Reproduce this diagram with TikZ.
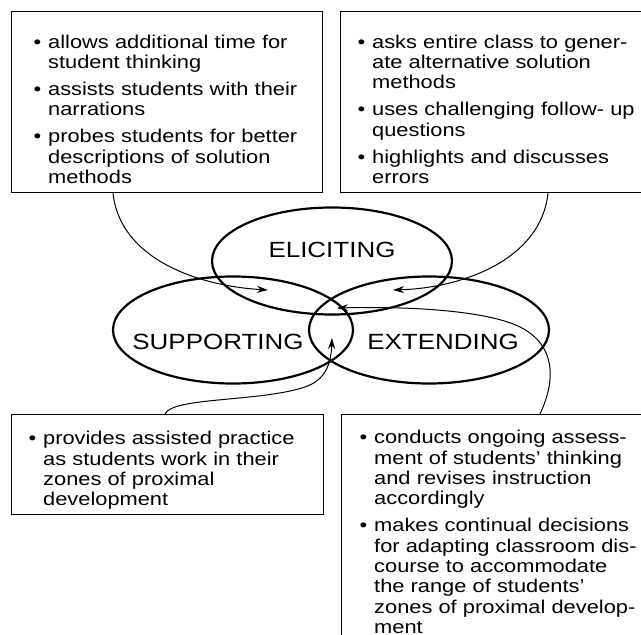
\documentclass[tikz,border=0pt]{standalone}
\usepackage{fontspec}
\setmainfont{Liberation Sans}[FakeStretch=1.18]
\usetikzlibrary{shapes.geometric,arrows.meta}

% one bullet point, lines broken by hand
\newcommand\bitem[1]{\par\noindent\strut\llap{\textbullet\hspace{7pt}}#1\par\vspace{6.5pt}}

\begin{document}
\begin{tikzpicture}[x=1pt,y=-1pt,
  box/.style={draw,line width=1pt,inner sep=0,anchor=north west},
  ring/.style={draw,ellipse,line width=2.2pt,inner sep=0,minimum width=240,minimum height=107},
  tag/.style={inner sep=0,font=\fontsize{22}{24}\selectfont},
  txt/.style={inner sep=0,anchor=north west,text width=300pt,align=left,font=\fontsize{18.5}{20.4}\selectfont},
  link/.style={line width=1pt,-{Stealth[length=11pt,width=7pt]}}]

\useasboundingbox (0,0) rectangle (641,635);
\clip (0,0) rectangle (641,635);

% boxes
\node[box,minimum width=311,minimum height=181] (tlbox) at (11,11) {};
\node[box,minimum width=330,minimum height=181] (trbox) at (340,11) {};
\node[box,minimum width=312,minimum height=100] (blbox) at (11,414) {};
\node[box,minimum width=330,minimum height=240] (brbox) at (341,414) {};

\node[txt] (tltext) at (48,27.5) {%
  \bitem{allows additional time for\\student thinking}
  \bitem{assists students with their\\narrations}
  \bitem{probes students for better\\descriptions of solution\\methods}};
\node[txt] (trtext) at (372,27.5) {%
  \bitem{asks entire class to gener-\\ate alternative solution\\methods}
  \bitem{uses challenging follow- up\\questions}
  \bitem{highlights and discusses\\errors}};
\node[txt] (bltext) at (43,424) {%
  \bitem{provides assisted practice\\as students work in their\\zones of proximal\\development}};
\node[txt] (brtext) at (374,423) {%
  \bitem{conducts ongoing assess-\\ment of students' thinking\\and revises instruction\\accordingly}
  \bitem{makes continual decisions\\for adapting classroom dis-\\course to accommodate\\the range of students'\\zones of proximal develop-\\ment}};

% the three rings
\node[ring] (elic) at (332,261) {};
\node[ring] (supp) at (233,330) {};
\node[ring] (extd) at (429,330) {};
\node[tag] (eliclabel) at (332,250) {ELICITING};
\node[tag] (supplabel) at (218,342) {SUPPORTING};
\node[tag] (extdlabel) at (443,342) {EXTENDING};

% arrows into the rings
\coordinate (tipA) at (268,290);
\coordinate (tipB) at (393,290);
\coordinate (tipC) at (332,338);
\coordinate (tipD) at (337,308);

\draw[link] ([xshift=102pt]tlbox.south west) .. controls (120,260) and (200,286) .. (tipA);
\draw[link] ([xshift=208pt]trbox.south west) .. controls (541,260) and (462,288) .. (tipB);
\draw[link] ([xshift=154pt]blbox.north west) .. controls (172,397) and (260,402) .. (305,387)
  .. controls (325,380) and (331,365) .. (tipC);
\draw[link] ([xshift=199pt]brbox.north west) .. controls (556,380) and (556,345) .. (520,327)
  .. controls (490,312) and (420,306) .. (tipD);

\end{tikzpicture}
\end{document}
